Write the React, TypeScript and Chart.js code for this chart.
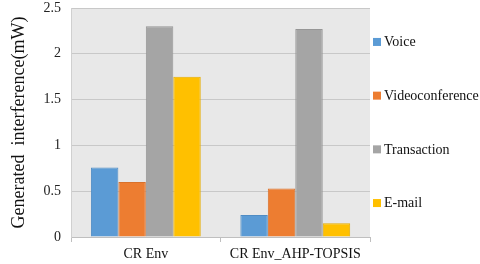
import React, { useEffect, useRef } from "react";
import { Chart, registerables } from "chart.js";

Chart.register(...registerables);

const categories = ["CR Env", "CR Env_AHP-TOPSIS"];
const seriesNames = ["Voice", "Videoconference", "Transaction", "E-mail"];
const voice = [0.76, 0.24];
const videoconference = [0.6, 0.53];
const transaction = [2.3, 2.27];
const email = [1.75, 0.15];
const yTicks = [0, 0.5, 1, 1.5, 2, 2.5];

const fills = ["#5b9bd5", "#ed7d31", "#a5a5a5", "#ffc000"];
const borders = ["#4f8cc4", "#d9712b", "#969696", "#e6ad00"];
const FONT = "Liberation Serif";

const plotBg = {
  id: "plotBg",
  beforeDraw(chart: any) {
    const { ctx, chartArea } = chart;
    ctx.save();
    ctx.fillStyle = "#e8e8e8";
    ctx.fillRect(chartArea.left, chartArea.top, chartArea.right - chartArea.left, chartArea.bottom - chartArea.top);
    ctx.restore();
  },
};

const sideLegend = {
  id: "sideLegend",
  afterDraw(chart: any) {
    const { ctx, chartArea } = chart;
    const sets = chart.data.datasets;
    const gap = 53.7;
    const cy = (chartArea.top + chartArea.bottom) / 2;
    const y0 = cy - (gap * (sets.length - 1)) / 2;
    ctx.save();
    ctx.font = `14px "${FONT}"`;
    ctx.textBaseline = "middle";
    ctx.textAlign = "left";
    sets.forEach((ds: any, i: number) => {
      const y = y0 + i * gap;
      const x = chartArea.right + 3;
      ctx.fillStyle = ds.backgroundColor;
      ctx.fillRect(x, y - 4, 8, 8);
      ctx.fillStyle = "#111";
      ctx.fillText(ds.label, x + 11, y + 0.5);
    });
    ctx.restore();
  },
};

const zeroPad = (s: any) => {
  s.paddingTop = 0;
  s.paddingBottom = 0;
  s.paddingLeft = 0;
  s.paddingRight = 0;
};

export default function App() {
  const ref = useRef<HTMLCanvasElement | null>(null);
  useEffect(() => {
    document.body.style.margin = "0";
    const values = [voice, videoconference, transaction, email];
    const chart = new Chart(ref.current!, {
      type: "bar",
      data: {
        labels: categories,
        datasets: seriesNames.map((name, i) => ({
          label: name,
          data: values[i],
          backgroundColor: fills[i],
          borderColor: borders[i],
          borderWidth: 1,
          categoryPercentage: 0.735,
          barPercentage: 1,
        })),
      },
      options: {
        animation: false,
        responsive: false,
        layout: { autoPadding: false, padding: { top: 8, right: 110, left: 8, bottom: 0 } },
        plugins: {
          tooltip: { enabled: false },
          legend: { display: false },
        },
        scales: {
          x: {
            afterFit(s: any) {
              s.height = 27;
              zeroPad(s);
            },
            grid: {
              offset: true,
              drawOnChartArea: false,
              drawTicks: true,
              tickLength: 5,
              color: "#bfbfbf",
            },
            border: { color: "#bfbfbf" },
            ticks: { color: "#111", font: { family: FONT, size: 14 }, padding: 4 },
          },
          y: {
            min: 0,
            max: 2.5,
            afterFit(s: any) {
              zeroPad(s);
            },
            afterBuildTicks(axis: any) {
              axis.ticks = yTicks.map((v) => ({ value: v }));
            },
            grid: { color: "#c8c8c8", drawTicks: false },
            border: { color: "#d0d0d0" },
            ticks: {
              color: "#222",
              font: { family: FONT, size: 14 },
              padding: 10,
              callback: (v: any) => String(v),
            },
            title: {
              display: true,
              text: "Generated  interference(mW)",
              color: "#111",
              font: { family: FONT, size: 18 },
              padding: { top: 0, bottom: 4 },
            },
          },
        },
      },
      plugins: [plotBg, sideLegend],
    });
    return () => chart.destroy();
  }, []);
  return <canvas ref={ref} width={480} height={264} style={{ display: "block" }} />;
}
